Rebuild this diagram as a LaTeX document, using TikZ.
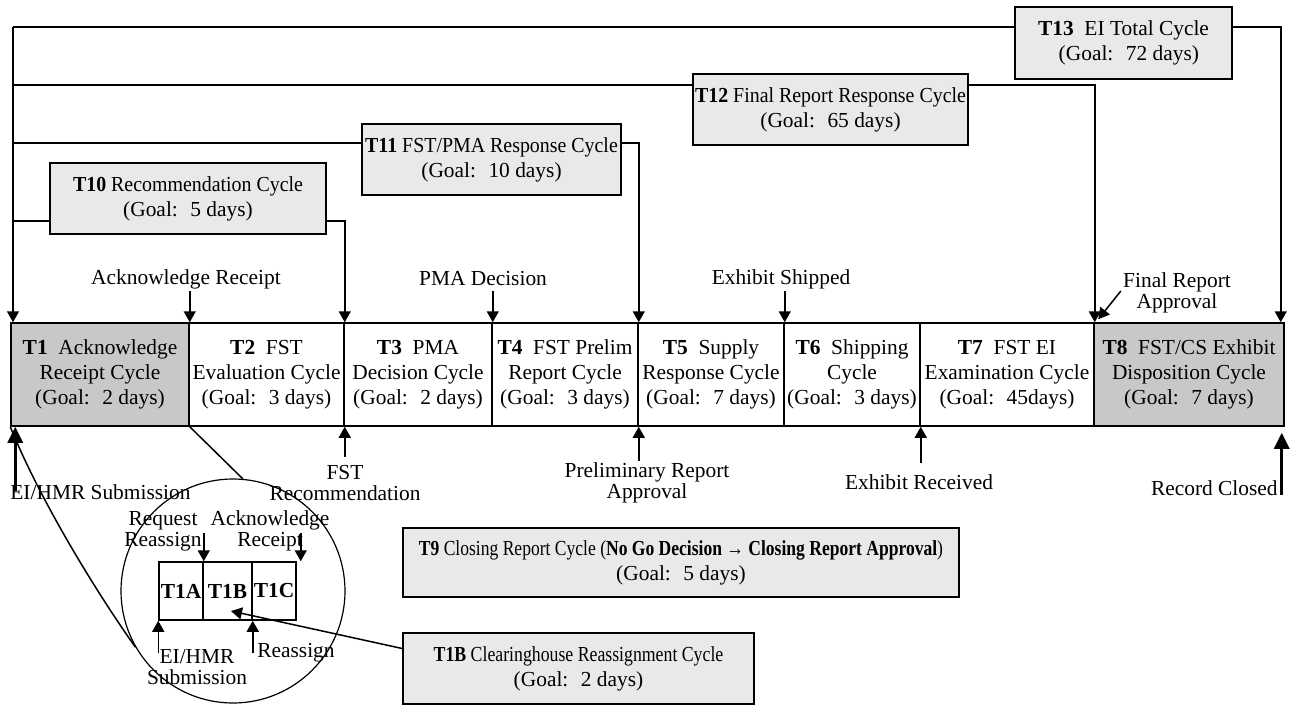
\documentclass[tikz,border=0pt]{standalone}
\usepackage{fontspec}
\setmainfont{Liberation Serif}
\usepackage{graphicx}
\usetikzlibrary{arrows.meta}
\definecolor{cellgray}{RGB}{200,200,200}
\definecolor{boxgray}{RGB}{233,233,233}
\newcommand{\sqz}[2]{\scalebox{#1}[1]{#2}}
\begin{document}
\begin{tikzpicture}[x=0.5pt,y=-0.5pt,
  every node/.style={font=\fontsize{10.7}{12.5}\selectfont},
  cell/.style={draw,line width=0.75pt,minimum height=51.5pt,inner sep=0pt,align=center},
  sub/.style={draw,line width=0.75pt,minimum height=29pt,inner sep=0pt,font=\fontsize{10.7}{12.5}\selectfont\bfseries},
  goal/.style={draw,line width=0.75pt,fill=boxgray,inner sep=0pt,align=center},
  lbl/.style={align=center,inner sep=0pt,font=\fontsize{10.7}{10.5}\selectfont},
  ln/.style={line width=0.75pt},
  arr/.style={line width=0.75pt,-{Triangle[length=5.5pt,width=6pt]}},
  bigarr/.style={line width=1.6pt,-{Triangle[length=8pt,width=7.5pt]}}]
\useasboundingbox (0,0) rectangle (1294,706);
% the cycle strip
\node[cell,fill=cellgray,minimum width=89pt] (t1) at (100,374.5) {\textbf{T1}~ Acknowledge\\Receipt Cycle\\(Goal:~ 2 days)};
\node[cell,minimum width=77.5pt] (t2) at (266.5,374.5) {\textbf{T2}~ FST\\Evaluation Cycle\\(Goal:~ 3 days)};
\node[cell,minimum width=74pt] (t3) at (418,374.5) {\textbf{T3}~ PMA\\Decision Cycle\\(Goal:~ 2 days)};
\node[cell,minimum width=73pt] (t4) at (565,374.5) {\textbf{T4}~ FST Prelim\\Report Cycle\\(Goal:~ 3 days)};
\node[cell,minimum width=73pt] (t5) at (711,374.5) {\textbf{T5}~ Supply\\Response Cycle\\(Goal:~ 7 days)};
\node[cell,minimum width=68pt] (t6) at (852,374.5) {\textbf{T6}~ Shipping\\Cycle\\(Goal:~ 3 days)};
\node[cell,minimum width=87pt] (t7) at (1007,374.5) {\textbf{T7}~ FST EI\\Examination Cycle\\(Goal:~ 45days)};
\node[cell,fill=cellgray,minimum width=95pt] (t8) at (1189,374.5) {\textbf{T8}~ FST/CS Exhibit\\Disposition Cycle\\(Goal:~ 7 days)};
% goal boxes
\node[goal,minimum width=138pt,minimum height=35.5pt] (t10) at (188,198.5) {\sqz{0.93}{\textbf{T10} Recommendation Cycle}\\(Goal:~ 5 days)};
\node[goal,minimum width=129.5pt,minimum height=35.5pt] (t11) at (491.5,159.5) {\sqz{0.93}{\textbf{T11} FST/PMA Response Cycle}\\(Goal:~ 10 days)};
\node[goal,minimum width=137.5pt,minimum height=35.5pt] (t12) at (830.5,109.5) {\sqz{0.93}{\textbf{T12} Final Report Response Cycle}\\(Goal:~ 65 days)};
\node[goal,minimum width=108.5pt,minimum height=36pt] (t13) at (1123.5,43) {\textbf{T13}~ EI Total Cycle\\~~(Goal:~ 72 days)};
\node[goal,minimum width=278pt,minimum height=34.5pt] (t9) at (681,562.5) {\sqz{0.82}{\textbf{T9} Closing Report Cycle (\textbf{No Go Decision → Closing Report Approval})}\\(Goal:~ 5 days)};
\node[goal,minimum width=175.5pt,minimum height=35.5pt] (t1bx) at (578.5,668.5) {\sqz{0.83}{\textbf{T1B} Clearinghouse Reassignment Cycle}\\(Goal:~ 2 days)};
% brackets
\coordinate (c13) at (13,27);
\coordinate (c12) at (13,85);
\coordinate (c11) at (13,143);
\coordinate (c10) at (13,221);
\draw[ln] (t13.west |- c13) -- (c13);
\draw[ln] (t12.west |- c12) -- (c12);
\draw[ln] (t11.west |- c11) -- (c11);
\draw[ln] (t10.west |- c10) -- (c10);
\draw[arr] (c13) -- (c13 |- t1.north);
\draw[arr] (t10.east |- c10) -| (t2.north east);
\draw[arr] (t11.east |- c11) -| (t4.north east);
\draw[arr] (t12.east |- c12) -| (t7.north east);
\draw[arr] (t13.east |- c13) -| ([xshift=-2pt]t8.north east);
% events above
\node[lbl] (ackr) at (186,279) {Acknowledge Receipt};
\node[lbl] (pmad) at (483,279) {PMA Decision};
\node[lbl] (exsh) at (781,279) {Exhibit Shipped};
\node[lbl] (frapp) at (1177,293) {Final Report\\Approval};
\draw[arr] ([yshift=15.5pt]t1.north east) -- (t1.north east);
\draw[arr] ([yshift=15.5pt]t3.north east) -- (t3.north east);
\draw[arr] ([yshift=15.5pt]t5.north east) -- (t5.north east);
\draw[arr] ([xshift=-1pt,yshift=1pt]frapp.west) -- ([xshift=2.5pt,yshift=1.5pt]t8.north west);
% events below
\node[lbl,anchor=west] (eisub) at (10,492) {EI/HMR Submission};
\node[lbl] (fstrec) at (345,483) {FST\\Recommendation};
\node[lbl] (prerep) at (647,483) {Preliminary Report\\Approval};
\node[lbl] (exrec) at (919,482) {Exhibit Received};
\node[lbl,anchor=east] (recclo) at (1278,488) {Record Closed};
\draw[bigarr] ([xshift=2.5pt,yshift=-32pt]t1.south west) -- ([xshift=2.5pt]t1.south west);
\draw[arr] ([yshift=-15pt]t2.south east) -- (t2.south east);
\draw[arr] ([yshift=-17pt]t4.south east) -- (t4.south east);
\draw[arr] ([yshift=-18pt]t6.south east) -- (t6.south east);
\draw[bigarr] ([xshift=-1.5pt,yshift=-34pt]t8.south east) -- ([xshift=-1.5pt,yshift=-3pt]t8.south east);
% zoom on T1
\node[circle,draw,line width=0.6pt,minimum size=112pt,inner sep=0pt] (lens) at (233,591) {};
\draw[ln] (t1.south east) -- (lens.85);
\draw[ln] (t1.south west) .. controls (40,500) and (95,590) .. (lens.210);
\node[sub,minimum width=22pt] (t1a) at (181,591) {T1A};
\node[sub,minimum width=24.5pt] (t1b) at (227.5,591) {T1B};
\node[sub,minimum width=22pt] (t1c) at (274,591) {T1C};
\node[lbl] (reqr) at (163,531) {Request\\Reassign};
\node[lbl] (ackin) at (270,531) {Acknowledge\\Receipt};
\node[lbl] (eiin) at (197,667) {EI/HMR\\Submission};
\node[lbl] (reain) at (296,653) {Reassign};
\draw[arr] ([yshift=14pt]t1a.north east) -- (t1a.north east);
\draw[arr] ([xshift=2pt,yshift=14pt]t1c.north east) -- ([xshift=2pt]t1c.north east);
\draw[arr] ([yshift=-16pt]t1a.south west) -- (t1a.south west);
\draw[arr] ([yshift=-16pt]t1b.south east) -- (t1b.south east);
\coordinate (t1bpt) at (231,611);
\draw[arr] ([yshift=10pt]t1bx.west) -- (t1bpt);
\end{tikzpicture}
\end{document}
